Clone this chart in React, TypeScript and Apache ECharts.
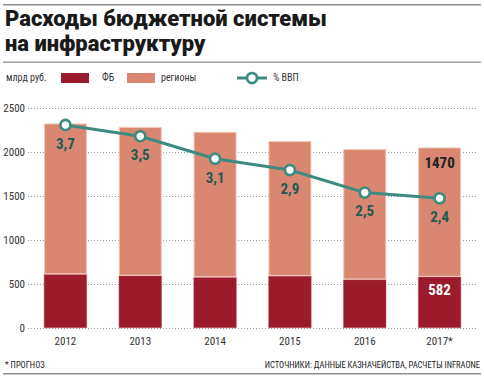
import React, { useEffect, useRef } from "react";
import * as echarts from "echarts";

const years = ["2012", "2013", "2014", "2015", "2016", "2017*"];
const fbValues = [610, 595, 577, 592, 551, 582];
const regionValues = [1715, 1690, 1653, 1532, 1482, 1470];
const gdpShare = [3.7, 3.5, 3.1, 2.9, 2.5, 2.4];
const gdpLabels = ["3,7", "3,5", "3,1", "2,9", "2,5", "2,4"];

const FB_COLOR = "#9b1a2c";
const REG_COLOR = "#d98770";
const LINE_COLOR = "#3d8a80";
const COND = "'Roboto Condensed', 'Liberation Sans Narrow', 'DejaVu Sans Condensed', Roboto, sans-serif";
const TITLE_FONT = "Roboto, 'Liberation Sans', sans-serif";

export default function App() {
  const ref = useRef<HTMLDivElement>(null);
  useEffect(() => {
    document.body.style.margin = "0";
    if (!ref.current) return;
    const chart = echarts.init(ref.current, null, { renderer: "svg" });
    const last = years.length - 1;
    chart.setOption({
      animation: false,
      backgroundColor: "#ffffff",
      grid: { left: 28, right: 7, top: 108, bottom: 52 },
      xAxis: {
        type: "category",
        data: years,
        axisLine: { show: false },
        axisTick: { show: false },
        axisLabel: { color: "#333", fontSize: 11, fontFamily: COND, margin: 8 },
      },
      yAxis: [
        {
          type: "value",
          min: 0,
          max: 2500,
          interval: 500,
          axisLine: { show: false },
          axisTick: { show: false },
          axisLabel: {
            color: "#333",
            fontSize: 11,
            fontFamily: COND,
            margin: 3,
            formatter: (v: number) => String(v),
          },
          splitLine: { lineStyle: { color: "#9a9a9a", type: [1, 2], width: 1 } },
        },
        { type: "value", min: 0.1, max: 4.0, show: false, splitLine: { show: false } },
      ],
      series: [
        {
          name: "ФБ",
          type: "bar",
          stack: "total",
          barWidth: 43,
          itemStyle: { color: FB_COLOR, borderColor: "#b84a55", borderWidth: 0.5 },
          data: fbValues.map((v, i) =>
            i === last
              ? {
                  value: v,
                  label: {
                    show: true,
                    position: "insideTop",
                    distance: 6,
                    color: "#ffffff",
                    fontSize: 15,
                    fontWeight: "bold",
                    fontFamily: COND,
                  },
                }
              : v
          ),
        },
        {
          name: "регионы",
          type: "bar",
          stack: "total",
          barWidth: 43,
          itemStyle: { color: REG_COLOR, borderColor: "#f2c6b6", borderWidth: 1 },
          data: regionValues.map((v, i) =>
            i === last
              ? {
                  value: v,
                  label: {
                    show: true,
                    position: "insideTop",
                    distance: 8,
                    color: "#222222",
                    fontSize: 15,
                    fontWeight: "bold",
                    fontFamily: COND,
                  },
                }
              : v
          ),
        },
        {
          name: "% ВВП",
          type: "line",
          yAxisIndex: 1,
          data: gdpShare,
          symbol: "circle",
          symbolSize: 10,
          lineStyle: { color: LINE_COLOR, width: 3 },
          itemStyle: { color: "#ffffff", borderColor: LINE_COLOR, borderWidth: 2.5 },
          z: 5,
          label: {
            show: true,
            position: "bottom",
            distance: 5,
            color: "#1f5a55",
            fontSize: 15,
            fontWeight: "bold",
            fontFamily: COND,
            formatter: (p: any) => gdpLabels[p.dataIndex],
          },
        },
      ],
      graphic: [
        { type: "rect", shape: { x: 3, y: 4, width: 478, height: 1.5 }, style: { fill: "#8c8c8c" } },
        {
          type: "text",
          left: 5,
          top: 7,
          style: {
            text: "Расходы бюджетной системы",
            fontSize: 22,
            lineHeight: 21,
            fontWeight: 900,
            fontFamily: TITLE_FONT,
            fill: "#1a1a1a",
          },
        },
        {
          type: "text",
          left: 5,
          top: 32,
          style: {
            text: "на инфраструктуру",
            fontSize: 22,
            lineHeight: 21,
            fontWeight: 900,
            fontFamily: TITLE_FONT,
            fill: "#1a1a1a",
          },
        },
        { type: "rect", shape: { x: 3, y: 61.5, width: 478, height: 1.2 }, style: { fill: "#8c8c8c" } },
        {
          type: "text",
          left: 6,
          top: 72,
          style: { text: "млрд руб.", fontSize: 10, fontFamily: COND, fill: "#333" },
        },
        { type: "rect", shape: { x: 61, y: 73, width: 28, height: 10 }, style: { fill: FB_COLOR } },
        {
          type: "text",
          left: 102,
          top: 72,
          style: { text: "ФБ", fontSize: 10, fontFamily: COND, fill: "#333" },
        },
        { type: "rect", shape: { x: 127, y: 73, width: 28, height: 10 }, style: { fill: REG_COLOR } },
        {
          type: "text",
          left: 161,
          top: 72,
          style: { text: "регионы", fontSize: 10, fontFamily: COND, fill: "#333" },
        },
        {
          type: "line",
          shape: { x1: 237, y1: 78, x2: 267, y2: 78 },
          style: { stroke: LINE_COLOR, lineWidth: 3 },
        },
        {
          type: "circle",
          shape: { cx: 252, cy: 78, r: 5 },
          style: { fill: "#ffffff", stroke: LINE_COLOR, lineWidth: 2.5 },
        },
        {
          type: "text",
          left: 273,
          top: 72,
          style: { text: "% ВВП", fontSize: 10, fontFamily: COND, fill: "#333" },
        },
        {
          type: "text",
          left: 5,
          top: 360,
          style: { text: "* ПРОГНОЗ", fontSize: 8.5, fontFamily: COND, fill: "#222" },
        },
        {
          type: "text",
          right: 4,
          top: 360,
          style: {
            text: "ИСТОЧНИКИ: ДАННЫЕ КАЗНАЧЕЙСТВА, РАСЧЕТЫ INFRAONE",
            fontSize: 8.5,
            fontFamily: COND,
            fill: "#222",
          },
        },
        { type: "rect", shape: { x: 3, y: 373, width: 478, height: 1.5 }, style: { fill: "#8c8c8c" } },
      ],
    });
    return () => chart.dispose();
  }, []);
  return <div ref={ref} style={{ width: 484, height: 380 }} />;
}
